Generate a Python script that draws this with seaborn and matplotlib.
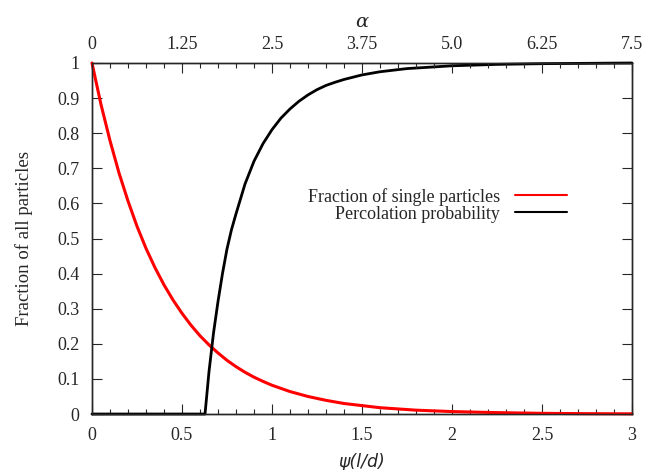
import matplotlib
matplotlib.use("Agg")
import matplotlib.pyplot as plt
from matplotlib.ticker import MultipleLocator
import pandas as pd
import seaborn as sns

# values
psi_single = [0, 0.05, 0.1, 0.15, 0.2, 0.25, 0.3, 0.35, 0.4, 0.45, 0.5, 0.55, 0.6, 0.65,
              0.7, 0.75, 0.8, 0.85, 0.9, 0.95, 1.0, 1.1, 1.2, 1.3, 1.4, 1.5, 1.6, 1.8,
              2.0, 2.25, 2.5, 2.75, 3.0]
frac_single = [1.0, 0.882, 0.779, 0.687, 0.607, 0.535, 0.472, 0.417, 0.368, 0.325, 0.287,
               0.253, 0.223, 0.197, 0.174, 0.153, 0.135, 0.119, 0.105, 0.093, 0.082, 0.064,
               0.050, 0.039, 0.030, 0.024, 0.018, 0.011, 0.007, 0.004, 0.002, 0.001, 0.0006]

psi_perc = [0, 0.3, 0.628, 0.65, 0.675, 0.7, 0.725, 0.75, 0.775, 0.8, 0.85, 0.9, 0.95, 1.0,
            1.05, 1.1, 1.15, 1.2, 1.25, 1.3, 1.35, 1.4, 1.5, 1.6, 1.75, 2.0, 2.25, 2.5, 3.0]
perc_prob = [0, 0, 0, 0.12, 0.23, 0.32, 0.40, 0.47, 0.525, 0.57, 0.655, 0.72, 0.77, 0.81,
             0.843, 0.869, 0.891, 0.909, 0.924, 0.936, 0.945, 0.953, 0.966, 0.975, 0.984,
             0.992, 0.996, 0.998, 1.0]

x_ticks = [0, 0.5, 1, 1.5, 2, 2.5, 3]
x_labels = ["0", "0.5", "1", "1.5", "2", "2.5", "3"]
y_ticks = [0, 0.1, 0.2, 0.3, 0.4, 0.5, 0.6, 0.7, 0.8, 0.9, 1]
y_labels = ["0", "0.1", "0.2", "0.3", "0.4", "0.5", "0.6", "0.7", "0.8", "0.9", "1"]
alpha_ticks = [0, 1.25, 2.5, 3.75, 5.0, 6.25, 7.5]
alpha_labels = ["0", "1.25", "2.5", "3.75", "5.0", "6.25", "7.5"]

sns.set_style("ticks")
plt.rcParams["font.family"] = ["Liberation Serif", "DejaVu Serif"]

fig = plt.figure(figsize=(6.45, 4.7), dpi=100)
ax = fig.add_axes([0.1426, 0.1191, 0.8372, 0.7469])

single = pd.DataFrame({"psi": psi_single, "val": frac_single})
perc = pd.DataFrame({"psi": psi_perc, "val": perc_prob})

sns.lineplot(data=single, x="psi", y="val", color="#ff0000", lw=2.2, ax=ax,
             label="Fraction of single particles", clip_on=False, zorder=3)
sns.lineplot(data=perc, x="psi", y="val", color="black", lw=2.0, ax=ax,
             label="Percolation probability", clip_on=False, zorder=3)

ax.set_xlim(0, 3)
ax.set_ylim(0, 1)
ax.set_xticks(x_ticks, x_labels)
ax.xaxis.set_minor_locator(MultipleLocator(0.1))
ax.set_yticks(y_ticks, y_labels)
ax.tick_params(axis="both", which="major", direction="in", length=7, width=0.8,
               labelsize=13, pad=9, right=True)
ax.tick_params(axis="x", which="minor", direction="in", length=3.5, width=0.8)
ax.set_xlabel("ψ(l/d)", fontsize=12.5, labelpad=7, family="DejaVu Sans", style="italic")
ax.set_ylabel("Fraction of all particles", fontsize=13.5, labelpad=17)

ax2 = ax.twiny()
ax2.set_xlim(0, 7.5)
ax2.set_xticks(alpha_ticks, alpha_labels)
ax2.xaxis.set_minor_locator(MultipleLocator(0.25))
ax2.tick_params(axis="x", which="major", direction="in", length=7, width=0.8,
                labelsize=13, pad=7)
ax2.tick_params(axis="x", which="minor", direction="in", length=3.5, width=0.8)
ax2.set_xlabel("α", fontsize=14, labelpad=7, family="DejaVu Serif", style="italic")

for a in (ax, ax2):
    for s in a.spines.values():
        s.set_linewidth(1.0)

ax.legend(loc="upper right", bbox_to_anchor=(0.893, 0.665), frameon=False,
          markerfirst=False, fontsize=13, handlelength=2.9, handletextpad=0.8,
          labelspacing=0.0, borderaxespad=0)
leg = ax.get_legend()
leg._legend_box.align = "right"
for line in leg.get_lines():
    line.set_linewidth(1.5)

fig.savefig("out.png", dpi=100)
